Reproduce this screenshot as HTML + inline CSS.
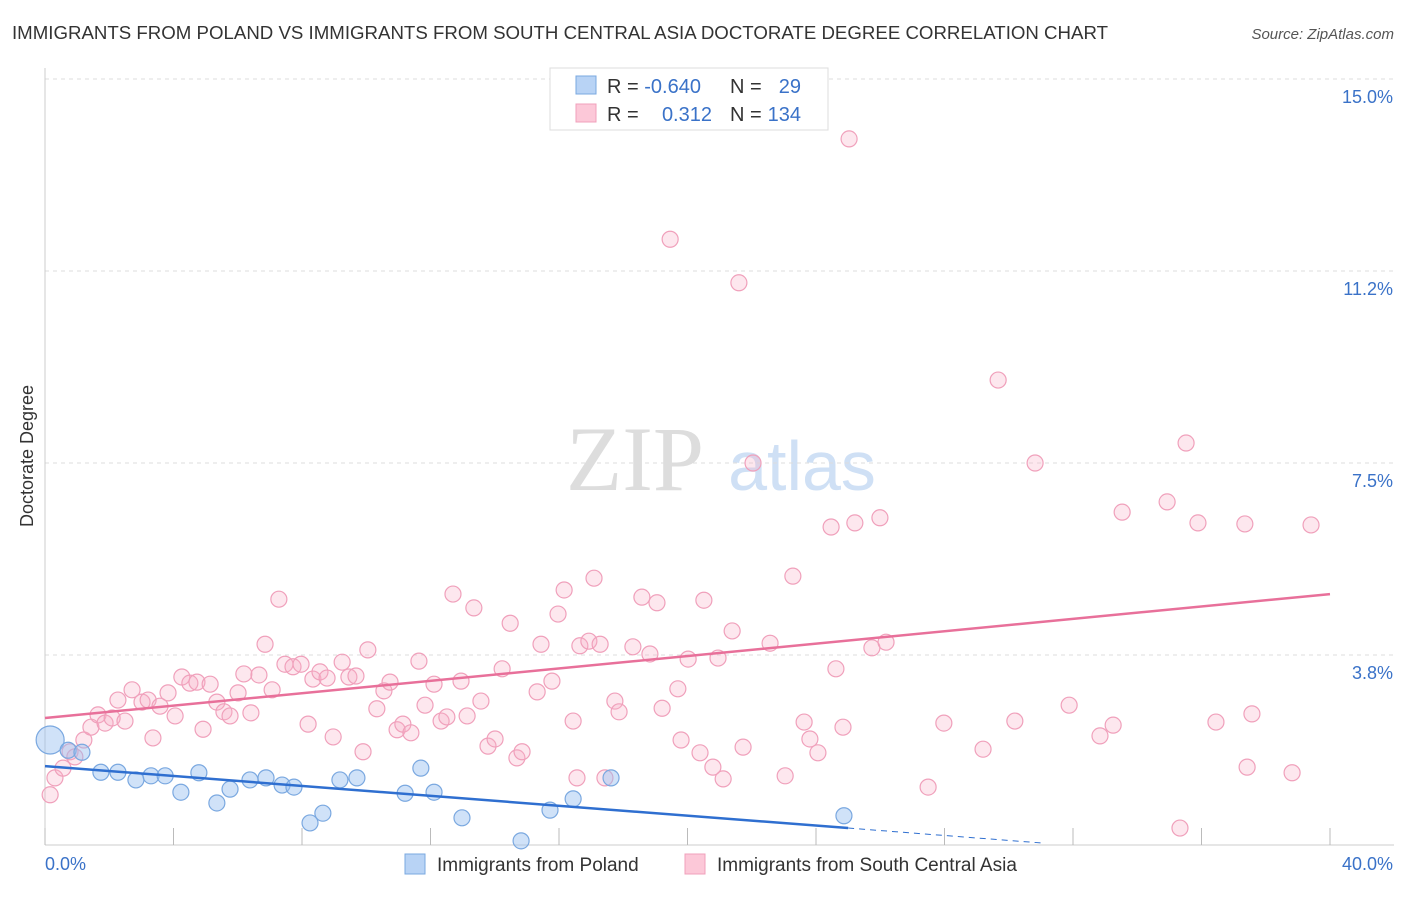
<!DOCTYPE html>
<html><head><meta charset="utf-8"><style>
body{margin:0;background:#fff;font-family:"Liberation Sans",sans-serif;}
</style></head><body>
<svg id="chart" width="1406" height="892" xmlns="http://www.w3.org/2000/svg" font-family="Liberation Sans, sans-serif">
<text x="12" y="39" font-size="18" fill="#333" textLength="1096" lengthAdjust="spacingAndGlyphs">IMMIGRANTS FROM POLAND VS IMMIGRANTS FROM SOUTH CENTRAL ASIA DOCTORATE DEGREE CORRELATION CHART</text>
<text x="1394" y="39" font-size="15" fill="#555" text-anchor="end" font-style="italic">Source: ZipAtlas.com</text>
<text transform="translate(33,456) rotate(-90)" font-size="18" fill="#333" text-anchor="middle">Doctorate Degree</text>
<g>
<text x="635" y="490" font-size="92" fill="#ddd" font-family="Liberation Serif, serif" text-anchor="middle">ZIP</text>
<text x="802" y="490" font-size="70" fill="#cfe0f5" text-anchor="middle">atlas</text>
</g>
<g id="grid"></g><g id="axes"></g><g id="pts"></g><g id="lines"></g>
<g>
<rect x="550" y="68" width="278" height="62" fill="#fff" stroke="#ddd"/>
<rect x="576" y="76" width="20" height="18" fill="#b8d3f5" stroke="#7aa8e0"/>
<rect x="576" y="104" width="20" height="18" fill="#fcc8d8" stroke="#f0a0bb"/>
<text x="607" y="93" font-size="20" fill="#333">R = <tspan fill="#3a72c8">-0.640</tspan></text>
<text x="730" y="93" font-size="20" fill="#333">N = </text><text x="801" y="93" font-size="20" fill="#3a72c8" text-anchor="end">29</text>
<text x="607" y="121" font-size="20" fill="#333">R = </text><text x="712" y="121" font-size="20" fill="#3a72c8" text-anchor="end">0.312</text>
<text x="730" y="121" font-size="20" fill="#333">N = </text><text x="801" y="121" font-size="20" fill="#3a72c8" text-anchor="end">134</text>
</g>
<g>
<rect x="405" y="854" width="20" height="20" fill="#b8d3f5" stroke="#7aa8e0"/>
<text x="437" y="871" font-size="19" fill="#333">Immigrants from Poland</text>
<rect x="685" y="854" width="20" height="20" fill="#fcc8d8" stroke="#f0a0bb"/>
<text x="717" y="871" font-size="19" fill="#333">Immigrants from South Central Asia</text>
</g>
</svg>
<script>
const yTicks=[3.75,7.5,11.25,15];
const yTickLabels=["3.8%","7.5%","11.2%","15.0%"];
const xLabels=["0.0%","40.0%"];
const polandX=[0.16,0.72,1.15,1.74,2.27,2.83,3.30,3.74,4.23,4.79,5.35,5.76,6.38,6.88,7.38,7.75,8.25,8.65,9.18,9.71,11.21,11.70,12.11,12.98,14.82,15.72,16.44,17.62,24.87];
const polandY=[2.09,1.89,1.85,1.46,1.46,1.31,1.39,1.39,1.07,1.45,0.86,1.13,1.31,1.35,1.21,1.17,0.47,0.66,1.31,1.35,1.05,1.54,1.07,0.57,0.12,0.72,0.94,1.35,0.61];
const scaX=[0.16,0.31,0.56,0.78,0.93,1.21,1.43,1.65,1.87,2.09,2.27,2.49,2.71,3.02,3.21,3.36,3.58,3.83,4.05,4.26,4.51,4.73,4.92,5.14,5.35,5.57,5.76,6.01,6.19,6.41,6.66,6.85,7.07,7.28,7.47,7.72,7.97,8.19,8.34,8.56,8.78,8.97,9.25,9.46,9.68,9.90,10.05,10.33,10.55,10.74,10.96,11.14,11.39,11.64,11.83,12.11,12.33,12.51,12.70,12.95,13.14,13.35,13.57,13.79,14.01,14.23,14.48,14.69,14.85,15.32,15.44,15.78,15.97,16.16,16.44,16.56,16.65,16.93,17.09,17.28,17.43,17.74,17.87,18.30,18.58,18.83,19.05,19.21,19.46,19.70,19.80,20.02,20.39,20.51,20.79,20.95,21.11,21.39,21.60,21.73,22.04,22.57,23.04,23.28,23.63,23.81,24.06,24.47,24.62,24.84,25.03,25.21,25.74,25.99,26.18,27.49,27.98,29.20,29.67,30.19,30.82,31.88,32.84,33.25,33.53,34.93,35.52,35.89,36.45,37.35,37.42,37.57,35.33,38.82,39.41];
const scaY=[1.02,1.35,1.54,1.86,1.76,2.09,2.34,2.58,2.42,2.52,2.87,2.46,3.07,2.83,2.87,2.13,2.75,3.01,2.56,3.32,3.20,3.22,2.30,3.18,2.83,2.64,2.56,3.01,3.38,2.62,3.36,3.96,3.07,4.84,3.57,3.52,3.57,2.40,3.28,3.42,3.30,2.15,3.61,3.32,3.34,1.86,3.85,2.70,3.05,3.22,2.29,2.40,2.23,3.63,2.77,3.18,2.46,2.54,4.94,3.24,2.56,4.67,2.85,1.97,2.11,3.48,4.37,1.74,1.86,3.03,3.96,3.24,4.55,5.02,2.46,1.35,3.93,4.02,5.25,3.96,1.35,2.85,2.64,3.91,4.88,3.77,4.77,2.71,11.87,3.09,2.09,3.67,1.84,4.82,1.56,3.69,1.33,4.22,11.02,1.95,7.50,3.98,1.39,5.29,2.44,2.11,1.84,6.25,3.48,2.34,13.83,6.33,3.89,6.43,4.00,1.17,2.42,1.91,9.12,2.46,7.50,2.77,2.17,2.38,6.54,6.74,7.89,6.33,2.44,6.31,1.56,2.60,0.37,1.45,6.29];
const polandTrend=[1.58,0.37,25,31];
const scaTrend=[2.52,4.94];
const X=v=>45+v*32.125, Y=v=>847-v*51.2;
const NS="http://www.w3.org/2000/svg";
function mk(tag,attrs,parent){const e=document.createElementNS(NS,tag);for(const k in attrs)e.setAttribute(k,attrs[k]);document.getElementById(parent).appendChild(e);return e;}
yTicks.forEach((t,i)=>{
 const g=mk('line',{x1:45,x2:1394,y1:Y(t),y2:Y(t),stroke:'#ddd','stroke-dasharray':'4,4'},'grid');
 
 
 const l=mk('text',{x:1393,y:Y(t)+24,'font-size':18,fill:'#3a72c8','text-anchor':'end'},'axes');
 l.textContent=yTickLabels[i];
 
 
});
const ax=mk('line',{x1:45,x2:1394,y1:845,y2:845,stroke:'#ccc'},'axes');


const ay=mk('line',{x1:45,x2:45,y1:68,y2:845,stroke:'#ccc'},'axes');


for(let i=0;i<=10;i++){const t=mk('line',{x1:X(i*4),x2:X(i*4),y1:828,y2:845,stroke:'#bbb'},'axes');
 
 }
[[0,'start',45],[1,'end',1393]].forEach(([i,a,x])=>{const l=mk('text',{x:x,y:870,'font-size':18,fill:'#3a72c8','text-anchor':a},'axes');l.textContent=xLabels[i];
 
 });
scaX.forEach((v,i)=>{const c=mk('circle',{cx:X(v),cy:Y(scaY[i]),r:8,fill:'rgba(248,175,200,0.3)',stroke:'#f0a0bb','stroke-width':1.2},'pts');
 
 });
polandX.forEach((v,i)=>{const c=mk('circle',{cx:X(v),cy:Y(polandY[i]),r:i==0?14:8,fill:'rgba(150,190,240,0.45)',stroke:'#7aa8e0','stroke-width':1.2},'pts');
 
 });
const slope=(polandTrend[1]-polandTrend[0])/polandTrend[2];
const pl=mk('line',{x1:X(0),y1:Y(polandTrend[0]),x2:X(polandTrend[2]),y2:Y(polandTrend[1]),stroke:'#2f6fd0','stroke-width':2.5},'lines');


const pd=mk('line',{x1:X(polandTrend[2]),y1:Y(polandTrend[1]),x2:X(polandTrend[3]),y2:Y(polandTrend[0]+slope*polandTrend[3]),stroke:'#2f6fd0','stroke-width':1,'stroke-dasharray':'6,5'},'lines');


const sl=mk('line',{x1:X(0),y1:Y(scaTrend[0]),x2:X(40),y2:Y(scaTrend[1]),stroke:'#e8709a','stroke-width':2.5},'lines');


</script>
</body></html>
